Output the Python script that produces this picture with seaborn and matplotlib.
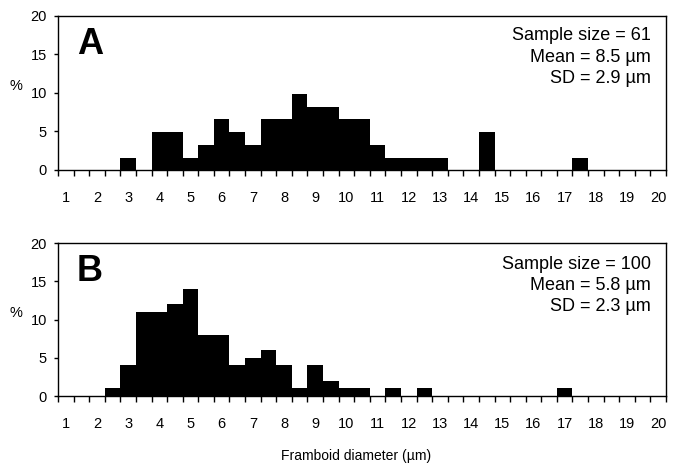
import numpy as np
import pandas as pd
import matplotlib
matplotlib.use("Agg")
import matplotlib.pyplot as plt
import seaborn as sns

# framboid diameter classes (0.5 um wide), percent of framboids in each class
diam_a = [3, 4, 4.5, 5, 5.5, 6, 6.5, 7, 7.5, 8, 8.5, 9, 9.5, 10, 10.5, 11,
          11.5, 12, 12.5, 13, 14.5, 17.5]
pct_a = [1.6, 4.9, 4.9, 1.6, 3.3, 6.6, 4.9, 3.3, 6.6, 6.6, 9.8, 8.2, 8.2, 6.6, 6.6, 3.3,
         1.6, 1.6, 1.6, 1.6, 4.9, 1.6]

diam_b = [2.5, 3, 3.5, 4, 4.5, 5, 5.5, 6, 6.5, 7, 7.5, 8, 8.5, 9, 9.5, 10, 10.5,
          11.5, 12.5, 17]
pct_b = [1, 4, 11, 11, 12, 14, 8, 8, 4, 5, 6, 4, 1, 4, 2, 1, 1,
         1, 1, 1]

panel_labels = ['A', 'B']
stats_text = ['Sample size = 61\nMean = 8.5 \u00b5m\nSD = 2.9 \u00b5m',
              'Sample size = 100\nMean = 5.8 \u00b5m\nSD = 2.3 \u00b5m']
x_labels = [str(i) for i in range(1, 21)]
y_ticks = [0, 5, 10, 15, 20]

sns.set_style('ticks')
plt.rcParams['font.family'] = ['Liberation Sans', 'DejaVu Sans']
plt.rcParams.update({'text.color': 'black', 'axes.labelcolor': 'black',
                     'xtick.color': 'black', 'ytick.color': 'black'})
narrow = ['Liberation Sans Narrow', 'Liberation Sans', 'DejaVu Sans']

fig = plt.figure(figsize=(6.76, 4.70), dpi=100)
ax1 = fig.add_axes([0.0858, 0.6383, 0.8994, 0.3283])
ax2 = fig.add_axes([0.0858, 0.1574, 0.8994, 0.3249])

edges = np.arange(0.75, 20.26, 0.5)

for ax, d, p, lab, txt, ytop in zip([ax1, ax2], [diam_a, diam_b], [pct_a, pct_b],
                                    panel_labels, stats_text, [0.566, 0.556]):
    df = pd.DataFrame({'diam': d, 'pct': p})
    sns.histplot(data=df, x='diam', weights='pct', binwidth=0.5,
                 binrange=(0.75, 20.25), color='black',
                 edgecolor='black', linewidth=0, alpha=1, ax=ax)
    ax.set_xlim(0.75, 20.25)
    ax.set_ylim(0, 20)
    ax.set_yticks(y_ticks)
    ax.set_yticklabels([str(v) for v in y_ticks], family=narrow, fontsize=10.5)
    ax.set_xticks(edges)
    ax.set_xticklabels([])
    ax.set_xticks(range(1, 21), minor=True)
    ax.set_xticklabels(x_labels, minor=True, family=narrow, fontsize=10.5)
    ax.tick_params(axis='x', which='major', length=4, width=1, direction='out', color='black')
    ax.tick_params(axis='x', which='minor', length=0, pad=15)
    ax.tick_params(axis='y', length=3, width=1, pad=5, color='black')
    for s in ax.spines.values():
        s.set_visible(True)
        s.set_color('black')
        s.set_linewidth(1)
    ax.set_ylabel('%', rotation=0, family=narrow, fontsize=10.5)
    ax.yaxis.set_label_coords(-0.07, 0.5)
    ax.set_xlabel('')
    ax.text(0.031, 0.75, lab, transform=ax.transAxes, fontsize=26,
            fontweight='bold', va='baseline', ha='left')
    ax.text(0.975, ytop, txt, transform=ax.transAxes, fontsize=13,
            va='baseline', ha='right', multialignment='right', linespacing=1.32)

ax2.set_xlabel('Framboid diameter (\u00b5m)', family=narrow, fontsize=10)
ax2.xaxis.set_label_coords(0.49, -0.35)

fig.savefig('out.png', dpi=100)
